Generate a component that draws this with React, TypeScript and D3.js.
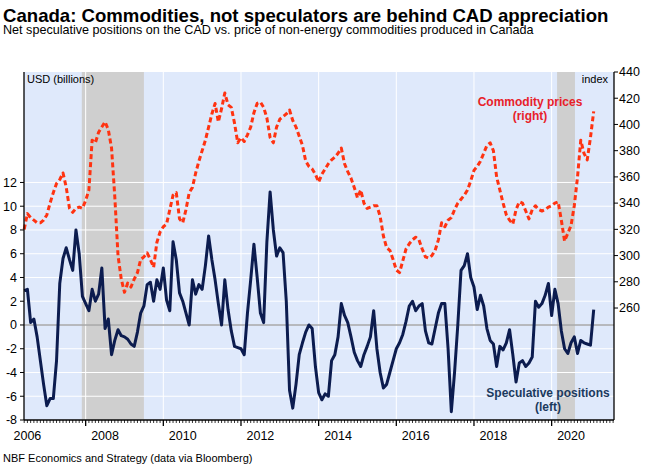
import React from "react";
import * as d3 from "d3";

// ---- DATA ----
const startYear = 2006;
const startMonth = 6; // June 2006, monthly observations
const commodityIndex = [
  320, 332, 329, 327, 325, 325, 327,
  331, 340, 348, 355, 358, 363, 352, 336, 333, 336, 337, 336,
  342, 350, 388, 386, 394, 398, 402, 396, 382, 345, 300, 282,
  272, 279, 276, 282, 287, 297, 299, 302, 297, 291, 310, 318,
  322, 324, 335, 346, 348, 328, 325, 335, 348, 352, 363, 372,
  380, 388, 398, 408, 416, 402, 412, 424, 415, 413, 401, 386,
  390, 387, 392, 398, 409, 416, 417, 413, 405, 390, 386, 398,
  404, 406, 408, 411, 403, 398, 391, 384, 372, 368, 366, 362,
  356, 362, 366, 370, 373, 375, 378, 382, 370, 364, 359, 352,
  344, 350, 340, 336, 337, 338, 338, 330, 315, 306, 304, 297,
  289, 287, 296, 305, 309, 312, 314, 312, 305, 299, 298, 300,
  304, 312, 325, 322, 327, 329, 335, 340, 343, 346, 350, 357,
  365, 368, 372, 378, 384, 386, 380, 360, 350, 340, 331, 327,
  324, 335, 341, 340, 334, 328, 335, 338, 335, 334, 335, 337,
  338, 340, 341, 327, 311, 317, 323, 338, 360, 388, 378, 373,
  390, 410,
];
const specPositions = [
  2.9, 3.0, 0.2, 0.5, -1.0, -3.0, -5.0,
  -6.8, -6.2, -6.2, -3.0, 3.5, 5.6, 6.5, 5.5, 4.6, 8.0, 6.0, 2.4,
  1.8, 1.2, 3.0, 2.0, 2.6, 4.8, -0.3, 0.5, -2.5, -1.3, -0.4, -0.9,
  -1.0, -1.2, -1.6, -1.8, -0.6, 1.0, 1.6, 3.4, 3.6, 2.0, 3.8, 3.0,
  4.8, 2.1, 1.2, 7.0, 5.5, 2.7, 2.0, 1.0, 0.0, 3.8, 2.6, 3.4,
  3.0, 5.0, 7.5, 5.5, 3.8, 1.8, 0.0, 3.8, 1.3, -0.5, -1.8, -1.9,
  -2.0, -2.5, 1.0, 3.8, 6.8, 4.0, 1.0, 0.2, 7.0, 11.2, 8.0, 5.8,
  6.5, 6.1, 2.0, -5.5, -7.0, -5.0, -2.5, -1.5, -0.6, 0.0, -0.3, -3.5,
  -5.7, -6.3, -5.8, -6.0, -3.0, -2.5, -1.0, 1.8, 0.8, 0.2, -1.0, -2.3,
  -3.0, -3.5, -2.5, -1.8, -1.0, 1.2, -2.0, -4.0, -5.3, -5.0, -4.0, -3.0,
  -2.0, -1.5, -0.8, 0.3, 1.6, 2.0, 1.2, 1.6, 1.8, -0.5, -1.5, -1.6,
  -0.3, 1.0, 1.8, 1.8, -2.0, -7.3, -4.0, 0.0, 4.6, 5.0, 6.0, 4.0,
  3.2, 1.3, 2.5, 1.6, -0.3, -1.3, -1.6, -3.5, -1.8, -2.1, -1.5, -0.4,
  -2.5, -4.8, -3.2, -3.0, -3.5, -3.2, -2.7, 2.0, 1.5, 1.8, 2.5, 3.5,
  0.8, 3.0, 1.8, -0.5, -2.0, -2.4, -1.5, -1.0, -2.4, -1.3, -1.5, -1.6,
  -1.7, 1.3,
];
const recessions = [
  [2007.9, 2009.5],
  [2020.14, 2020.6],
];
const leftTicks = [-8, -6, -4, -2, 0, 2, 4, 6, 8, 10, 12];
const rightTicks = [260, 280, 300, 320, 340, 360, 380, 400, 420, 440];
const yearLabels = [2006, 2008, 2010, 2012, 2014, 2016, 2018, 2020];

const title = "Canada: Commodities, not speculators are behind CAD appreciation";
const subtitle =
  "Net speculative positions on the CAD vs. price of non-energy commodities produced in Canada";
const footer = "NBF Economics and Strategy (data via Bloomberg)";

// ---- LAYOUT ----
const W = 645;
const H = 469;
const L = 24;
const R = 614;
const T = 72;
const B = 420;
const FONT = "'Liberation Sans', Arial, sans-serif";
const NAVY = "#0c1c4f";
const RED = "#ff3311";

export default function App() {
  const x = d3.scaleLinear().domain([2006.412, 2021.606]).range([L, R]);
  const yL = d3.scaleLinear().domain([-8, 21.3]).range([B, T]);
  const yR = d3.scaleLinear().domain([174.6, 440]).range([B, T]);
  const t = (i: number) => startYear + (startMonth - 1 + i) / 12;

  const comLine = d3
    .line<number>()
    .x((_, i) => x(t(i)))
    .y((d) => yR(d));
  const specLine = d3
    .line<number>()
    .x((_, i) => x(t(i)))
    .y((d) => yL(d));

  const monthTicks: { v: number; major: boolean }[] = [];
  for (let yr = 2006; yr <= 2021; yr++) {
    for (let m = 0; m < 12; m++) {
      const v = yr + m / 12;
      if (v >= 2006.412 && v <= 2021.606)
        monthTicks.push({ v, major: m === 0 && yr % 2 === 0 });
    }
  }

  return (
    <svg
      width={W}
      height={H}
      style={{ position: "absolute", left: 0, top: 0, background: "#fff" }}
      fontFamily={FONT}
    >
      <rect x={0} y={0} width={W} height={H} fill="#fff" />
      <text x={3} y={21.5} fontSize={18.6} fontWeight="bold" fill="#000">
        {title}
      </text>
      <text x={3} y={34} fontSize={12.6} fill="#000">
        {subtitle}
      </text>

      <rect x={L} y={T} width={R - L} height={B - T} fill="#dfe9fb" />
      {recessions.map(([a, b], i) => (
        <rect key={i} x={x(a)} y={T} width={x(b) - x(a)} height={B - T} fill="#cfcfcf" />
      ))}
      {leftTicks.map((v) => (
        <line key={"hg" + v} x1={L} x2={R} y1={yL(v)} y2={yL(v)} stroke="#fff" strokeWidth={1} />
      ))}
      {yearLabels
        .filter((yr) => yr > 2006)
        .map((yr) => (
          <line key={"vg" + yr} x1={x(yr)} x2={x(yr)} y1={T} y2={B} stroke="#fff" strokeWidth={1} />
        ))}
      <line x1={L} x2={R} y1={yL(0)} y2={yL(0)} stroke="#7f7f7f" strokeWidth={1.2} />

      <path d={specLine(specPositions) || ""} fill="none" stroke={NAVY} strokeWidth={3} strokeLinejoin="round" />
      <path
        d={comLine(commodityIndex) || ""}
        fill="none"
        stroke={RED}
        strokeWidth={3}
        strokeDasharray="5 3"
        strokeLinejoin="round"
      />

      {/* axes */}
      <line x1={L} x2={L} y1={T} y2={B} stroke="#000" strokeWidth={1.3} />
      <line x1={R} x2={R} y1={T} y2={B} stroke="#000" strokeWidth={1.3} />
      <line x1={L} x2={R} y1={B} y2={B} stroke="#000" strokeWidth={1.3} />
      {leftTicks.map((v) => (
        <g key={"lt" + v}>
          <line x1={L - 4} x2={L} y1={yL(v)} y2={yL(v)} stroke="#000" />
          <text x={L - 7} y={yL(v) + 4.3} fontSize={12.5} textAnchor="end" fill="#000">
            {v}
          </text>
        </g>
      ))}
      {rightTicks.map((v) => (
        <g key={"rt" + v}>
          <line x1={R} x2={R + 4} y1={yR(v)} y2={yR(v)} stroke="#000" />
          <text x={R + 5} y={yR(v) + 4.3} fontSize={12.5} textAnchor="start" fill="#000">
            {v}
          </text>
        </g>
      ))}
      {monthTicks.map((d, i) => (
        <line
          key={"mt" + i}
          x1={x(d.v)}
          x2={x(d.v)}
          y1={B}
          y2={B + (d.major ? 6 : 3)}
          stroke="#000"
          strokeWidth={d.major ? 1.3 : 0.8}
        />
      ))}
      {yearLabels.map((yr) => (
        <text key={"yl" + yr} x={x(yr + 0.5)} y={440} fontSize={12.5} textAnchor="middle" fill="#000">
          {yr}
        </text>
      ))}

      <text x={L + 3} y={83} fontSize={11} fill="#000">
        USD (billions)
      </text>
      <text x={R - 6} y={83} fontSize={11} textAnchor="end" fill="#000">
        index
      </text>
      <text x={530} y={106} fontSize={12} fontWeight="bold" textAnchor="middle" fill="#e8212a">
        Commodity prices
      </text>
      <text x={530} y={120} fontSize={12} fontWeight="bold" textAnchor="middle" fill="#e8212a">
        (right)
      </text>
      <text x={548} y={397} fontSize={12} fontWeight="bold" textAnchor="middle" fill="#1b3a5e">
        Speculative positions
      </text>
      <text x={548} y={411} fontSize={12} fontWeight="bold" textAnchor="middle" fill="#1b3a5e">
        (left)
      </text>

      <text x={3} y={462} fontSize={11} fill="#000">
        {footer}
      </text>
    </svg>
  );
}
